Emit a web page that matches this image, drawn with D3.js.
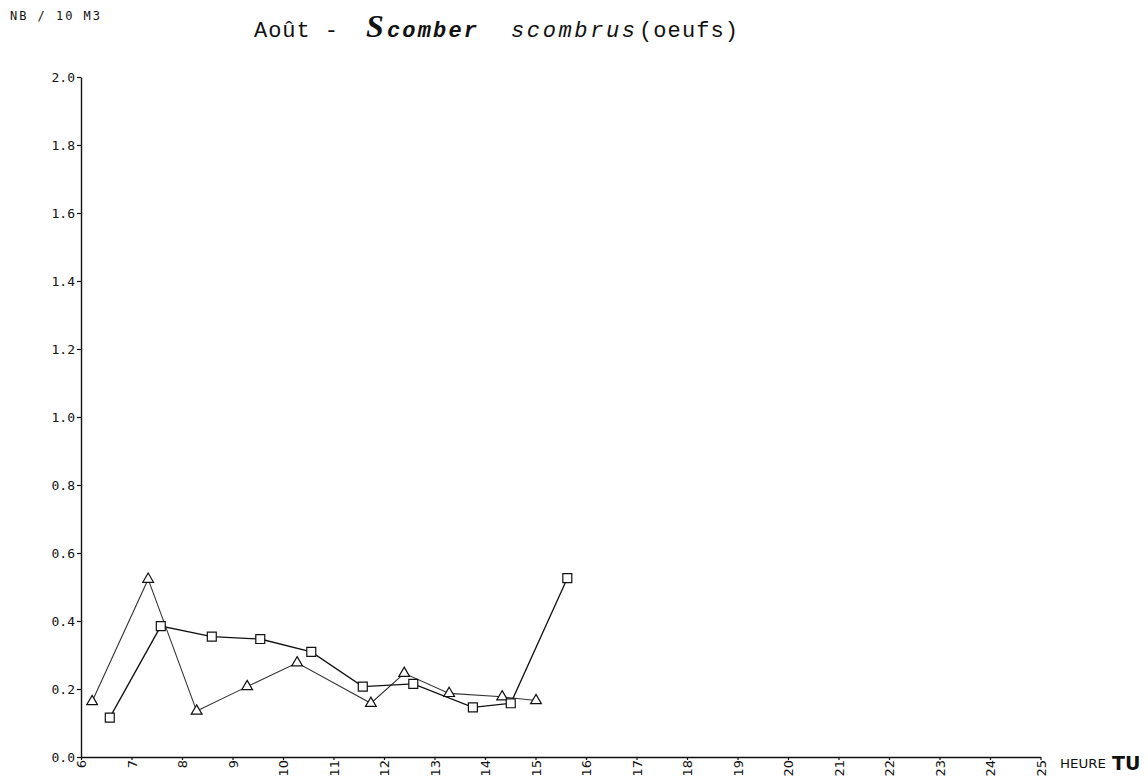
<!DOCTYPE html>
<html>
<head>
<meta charset="utf-8">
<script src="https://cdn.jsdelivr.net/npm/d3@7"></script>
<style>
  html, body { margin: 0; padding: 0; background: #fff; }
  svg { display: block; }
</style>
</head>
<body>
<svg id="chart" width="1148" height="781"></svg>
<script>
// Hour ticks on the time axis (TU) and concentration ticks (NB / 10 m3)
const hourTicks = d3.range(6, 26);
const valueTicks = [0, 0.2, 0.4, 0.6, 0.8, 1.0, 1.2, 1.4, 1.6, 1.8, 2.0];

// Series drawn with triangles
const triHours  = [6.22, 7.33, 8.29, 9.29, 10.28, 11.74, 12.40, 13.29, 14.34, 15.01];
const triValues = [0.163, 0.523, 0.135, 0.207, 0.277, 0.158, 0.246, 0.187, 0.177, 0.166];

// Series drawn with squares
const sqHours  = [6.57, 7.58, 8.59, 9.55, 10.56, 11.58, 12.58, 13.76, 14.51, 15.63];
const sqValues = [0.116, 0.385, 0.354, 0.347, 0.309, 0.207, 0.215, 0.146, 0.158, 0.526];

const svg = d3.select("#chart");

const x = d3.scaleLinear().domain([6, 25]).range([81, 1040.5]);
const y = d3.scaleLinear().domain([0, 2]).range([757, 77]);

const ink = "#111";

// Y axis
const yAxis = svg.append("g")
  .attr("transform", `translate(${x(6)},0)`)
  .call(d3.axisLeft(y).tickValues(valueTicks).tickFormat(d3.format(".1f")).tickSize(4).tickSizeOuter(0).tickPadding(2));
yAxis.select(".domain").attr("stroke", ink).attr("stroke-width", 1.4);
yAxis.selectAll(".tick line").attr("stroke", ink).attr("stroke-width", 1.2);
yAxis.selectAll(".tick text")
  .attr("fill", ink)
  .style("font-family", "'DejaVu Sans Mono', monospace")
  .style("font-size", "13px");

// X axis with upright-rotated hour labels
const xAxis = svg.append("g")
  .attr("transform", `translate(0,${y(0)})`)
  .call(d3.axisBottom(x).tickValues(hourTicks).tickFormat(d3.format("d")).tickSize(3).tickSizeOuter(0));
xAxis.select(".domain").attr("stroke", ink).attr("stroke-width", 1.5);
xAxis.selectAll(".tick line").attr("stroke", ink).attr("stroke-width", 1.2);
xAxis.selectAll(".tick text")
  .attr("fill", ink)
  .attr("transform", "rotate(-90)")
  .attr("x", -3)
  .attr("y", 0)
  .attr("dy", "0.36em")
  .attr("text-anchor", "end")
  .style("font-family", "'DejaVu Sans', sans-serif")
  .style("font-size", "13px");

// Lines
const line = d3.line().x(d => x(d[0])).y(d => y(d[1]));
const triPts = triHours.map((h, i) => [h, triValues[i]]);
const sqPts = sqHours.map((h, i) => [h, sqValues[i]]);

svg.append("path").datum(triPts)
  .attr("d", line).attr("fill", "none")
  .attr("stroke", "#333").attr("stroke-width", 1.1);
svg.append("path").datum(sqPts)
  .attr("d", line).attr("fill", "none")
  .attr("stroke", ink).attr("stroke-width", 1.3);

// Markers
const triSym = d3.symbol().type(d3.symbolTriangle).size(50);
const sqSym = d3.symbol().type(d3.symbolSquare).size(80);

svg.append("g").selectAll("path").data(triPts).join("path")
  .attr("d", triSym)
  .attr("transform", d => `translate(${x(d[0])},${y(d[1])})`)
  .attr("fill", "#fff").attr("stroke", ink).attr("stroke-width", 1.2);

svg.append("g").selectAll("path").data(sqPts).join("path")
  .attr("d", sqSym)
  .attr("transform", d => `translate(${x(d[0])},${y(d[1])})`)
  .attr("fill", "#fff").attr("stroke", ink).attr("stroke-width", 1.2);

// Unit label
svg.append("text")
  .attr("x", 10).attr("y", 20)
  .attr("textLength", 90).attr("lengthAdjust", "spacing")
  .attr("fill", ink)
  .style("font-family", "'DejaVu Sans Mono', monospace")
  .style("font-size", "12px")
  .text("NB / 10 M3");

// Title
const mono = "'Liberation Mono', 'Courier New', monospace";
const title = svg.append("g").attr("fill", ink);
title.append("text")
  .attr("x", 254).attr("y", 37)
  .attr("textLength", 84).attr("lengthAdjust", "spacing")
  .style("font-family", mono).style("font-size", "22px")
  .text("Août -");
title.append("text")
  .attr("x", 366).attr("y", 37)
  .style("font-family", "'Liberation Serif', serif")
  .style("font-size", "32px").style("font-weight", "bold").style("font-style", "italic")
  .text("S");
title.append("text")
  .attr("x", 387).attr("y", 37)
  .attr("textLength", 90).attr("lengthAdjust", "spacing")
  .style("font-family", mono).style("font-size", "22px").style("font-style", "italic").style("font-weight", "bold")
  .text("comber");
title.append("text")
  .attr("x", 511).attr("y", 37)
  .attr("textLength", 124).attr("lengthAdjust", "spacing")
  .style("font-family", mono).style("font-size", "22px").style("font-style", "italic")
  .text("scombrus");
title.append("text")
  .attr("x", 639).attr("y", 37)
  .attr("textLength", 99).attr("lengthAdjust", "spacing")
  .style("font-family", mono).style("font-size", "22px")
  .text("(oeufs)");

// Axis title
svg.append("text")
  .attr("x", 1060).attr("y", 768)
  .attr("textLength", 46).attr("lengthAdjust", "spacingAndGlyphs")
  .attr("fill", ink)
  .style("font-family", "'DejaVu Sans', sans-serif")
  .style("font-size", "13px")
  .text("HEURE");
svg.append("text")
  .attr("x", 1112).attr("y", 770)
  .attr("fill", ink)
  .style("font-family", "'DejaVu Sans', sans-serif")
  .style("font-size", "19px").style("font-weight", "bold")
  .text("TU");
</script>
</body>
</html>
